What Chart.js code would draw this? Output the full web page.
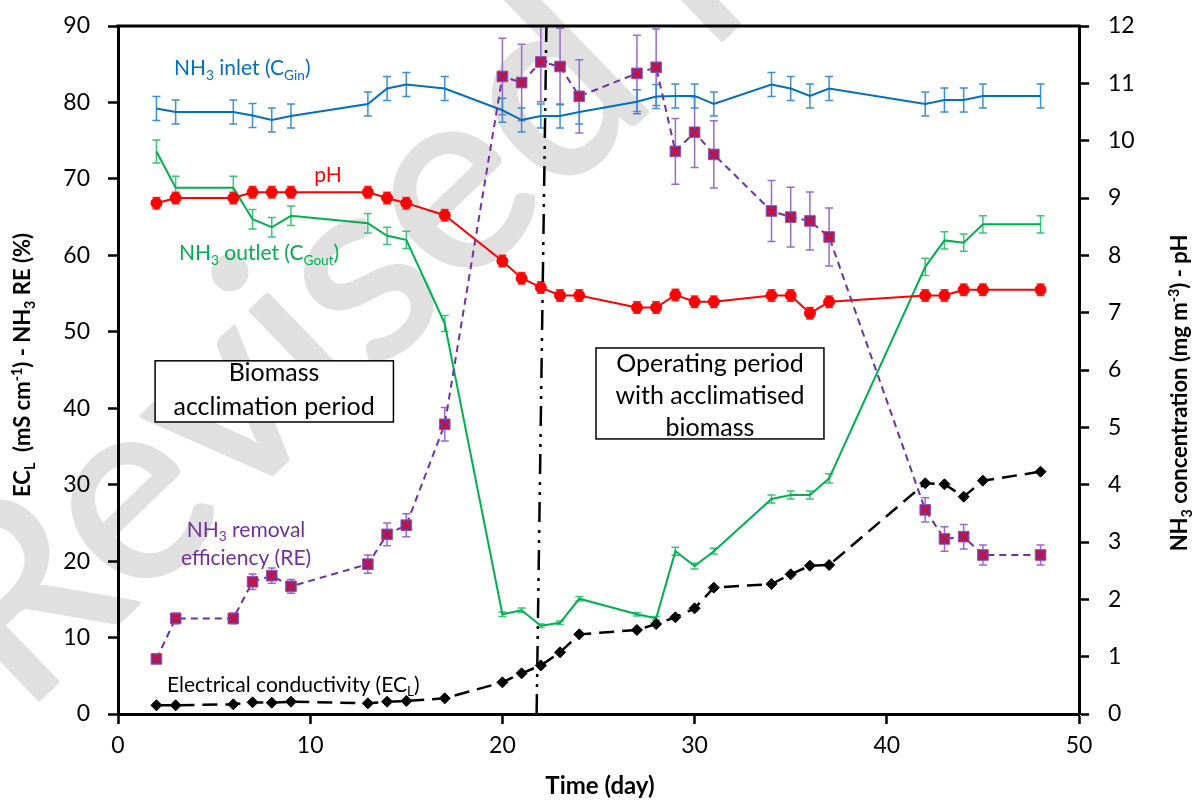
<!DOCTYPE html>
<html>
<head>
<meta charset="utf-8">
<script src="https://cdn.jsdelivr.net/npm/chart.js@4.4.0/dist/chart.umd.min.js"></script>
<style>
  html, body { margin: 0; background: #fff; }
  #wrap { width: 1200px; height: 810px; position: relative; }
</style>
</head>
<body>
<div id="wrap"><canvas id="chart"></canvas></div>
<script>
// sampling days
const days = [2, 3, 6, 7, 8, 9, 13, 14, 15, 17, 20, 21, 22, 23, 24, 27, 28, 29, 30, 31, 34, 35, 36, 37, 42, 43, 44, 45, 48];

// NH3 inlet (mg m-3), right axis
const inlet    = [10.56, 10.50, 10.50, 10.44, 10.36, 10.43, 10.64, 10.91, 10.98, 10.91, 10.53, 10.36, 10.43, 10.43, 10.50, 10.68, 10.77, 10.78, 10.78, 10.64, 10.98, 10.91, 10.78, 10.91, 10.64, 10.71, 10.71, 10.78, 10.78];
const inletErr = [0.21, 0.21, 0.21, 0.21, 0.21, 0.21, 0.21, 0.21, 0.21, 0.21, 0.21, 0.21, 0.21, 0.21, 0.21, 0.21, 0.21, 0.21, 0.21, 0.21, 0.21, 0.21, 0.21, 0.21, 0.21, 0.21, 0.21, 0.21, 0.21];

// pH, right axis
const pH    = [8.91, 9.00, 9.00, 9.10, 9.10, 9.10, 9.10, 9.00, 8.91, 8.70, 7.90, 7.60, 7.44, 7.30, 7.30, 7.09, 7.09, 7.31, 7.19, 7.19, 7.30, 7.30, 6.99, 7.19, 7.30, 7.30, 7.40, 7.40, 7.40];
const pHErr = [0.1, 0.1, 0.1, 0.1, 0.1, 0.1, 0.1, 0.1, 0.1, 0.1, 0.1, 0.1, 0.1, 0.1, 0.1, 0.1, 0.1, 0.1, 0.1, 0.1, 0.1, 0.1, 0.1, 0.1, 0.1, 0.1, 0.1, 0.1, 0.1];

// NH3 outlet (mg m-3), right axis
const outlet    = [9.81, 9.18, 9.18, 8.63, 8.49, 8.69, 8.56, 8.34, 8.27, 6.81, 1.74, 1.81, 1.54, 1.59, 2.01, 1.74, 1.67, 2.84, 2.58, 2.84, 3.75, 3.82, 3.82, 4.11, 7.80, 8.26, 8.22, 8.54, 8.54];
const outletErr = [0.2, 0.2, 0.2, 0.17, 0.17, 0.17, 0.17, 0.15, 0.15, 0.14, 0.04, 0.04, 0.03, 0.03, 0.04, 0.03, 0.03, 0.07, 0.05, 0.05, 0.07, 0.07, 0.07, 0.08, 0.15, 0.15, 0.15, 0.15, 0.15];

// NH3 removal efficiency (%), left axis
const removal    = [7.2, 12.5, 12.5, 17.3, 18.1, 16.7, 19.6, 23.5, 24.7, 37.9, 83.4, 82.6, 85.3, 84.7, 80.8, 83.8, 84.6, 73.6, 76.1, 73.2, 65.8, 65.0, 64.5, 62.4, 26.7, 22.9, 23.2, 20.8, 20.8];
const removalErr = [0.3, 0.7, 0.7, 1.0, 1.0, 0.9, 1.2, 1.5, 1.5, 2.2, 5.0, 5.0, 5.2, 5.0, 4.8, 5.0, 5.0, 4.3, 4.6, 4.4, 4.0, 3.9, 3.8, 3.8, 1.6, 1.6, 1.6, 1.3, 1.3];

// electrical conductivity (mS cm-1), left axis
const ecl = [1.14, 1.14, 1.27, 1.53, 1.48, 1.61, 1.40, 1.61, 1.70, 2.05, 4.14, 5.32, 6.36, 8.07, 10.42, 10.99, 11.77, 12.65, 13.82, 16.53, 17.0, 18.27, 19.4, 19.49, 30.18, 30.05, 28.43, 30.52, 31.7];

// period divider (dash-dot line)
const dividerX = [21.78, 22.29];
const dividerY = [0, 90];

// axis ranges [min, max, step]
const xRange = [0, 50, 10];
const leftRange = [0, 90, 10];
const rightRange = [0, 12, 1];

const FONT = 'Lato, "Open Sans", sans-serif';
const toPts = vals => days.map((d, i) => ({ x: d, y: vals[i] }));

// text with sub/superscripts: parts = [[text, 0 normal | 1 sub | 2 sup], ...]
function drawRich(ctx, parts, x, y, size, weight, color, align) {
  const sm = size * 0.65;
  const font = s => `${weight} ${s}px ${FONT}`;
  let w = 0;
  parts.forEach(p => { ctx.font = font(p[1] ? sm : size); w += ctx.measureText(p[0]).width; });
  let cx = align === 'center' ? x - w / 2 : x;
  ctx.fillStyle = color;
  ctx.textAlign = 'left';
  ctx.textBaseline = 'alphabetic';
  parts.forEach(p => {
    ctx.font = font(p[1] ? sm : size);
    const dy = p[1] === 1 ? size * 0.22 : (p[1] === 2 ? -size * 0.38 : 0);
    ctx.fillText(p[0], cx, y + dy);
    cx += ctx.measureText(p[0]).width;
  });
}

// labels placed in data coordinates (x: day, y: left axis value at baseline)
const seriesLabels = [
  { x: 2.91, y: 83.6, align: 'left', color: '#0070c0', parts: [['NH', 0], ['3', 1], [' inlet (C', 0], ['Gin', 1], [')', 0]] },
  { x: 10.93, y: 69.6, align: 'center', color: '#ff0000', parts: [['pH', 0]] },
  { x: 3.17, y: 59.4, align: 'left', color: '#00b050', parts: [['NH', 0], ['3', 1], [' outlet (C', 0], ['Gout', 1], [')', 0]] },
  { x: 6.66, y: 23.2, align: 'center', color: '#7030a0', parts: [['NH', 0], ['3', 1], [' removal', 0]] },
  { x: 6.66, y: 19.5, align: 'center', color: '#7030a0', parts: [['efficiency (RE)', 0]] },
  { x: 2.55, y: 2.9, align: 'left', color: '#000000', parts: [['Electrical conductivity (EC', 0], ['L', 1], [')', 0]] }
];

const periodBoxes = [
  { x0: 1.93, x1: 14.33, y0: 38.2, y1: 46.2, cx: 8.12, lines: [['Biomass', 43.5], ['acclimation period', 39.1]] },
  { x0: 24.87, x1: 36.73, y0: 35.98, y1: 47.88, cx: 30.8, lines: [['Operating period', 44.7], ['with acclimatised', 40.5], ['biomass', 36.4]] }
];

const errorBars = {
  id: 'errorBars',
  beforeDatasetsDraw(chart) {
    const { ctx, chartArea: a } = chart;
    ctx.save();
    ctx.beginPath();
    ctx.rect(a.left, a.top, a.right - a.left, a.bottom - a.top);
    ctx.clip();
    chart.data.datasets.forEach(ds => {
      if (!ds.errors) return;
      const xs = chart.scales.x, ys = chart.scales[ds.yAxisID];
      ctx.strokeStyle = ds.errorColor;
      ctx.lineWidth = 1.5;
      ds.data.forEach((p, j) => {
        const e = ds.errors[j];
        if (!e) return;
        const px = xs.getPixelForValue(p.x);
        const top = ys.getPixelForValue(p.y + e), bot = ys.getPixelForValue(p.y - e);
        ctx.beginPath();
        ctx.moveTo(px, top); ctx.lineTo(px, bot);
        ctx.moveTo(px - 4, top); ctx.lineTo(px + 4, top);
        ctx.moveTo(px - 4, bot); ctx.lineTo(px + 4, bot);
        ctx.stroke();
      });
    });
    ctx.restore();
  }
};

const decorations = {
  id: 'decorations',
  beforeDraw(chart) {
    // grey "Revised manuscript" watermark
    const ctx = chart.ctx;
    ctx.save();
    ctx.translate(22, 716);
    ctx.rotate(-44 * Math.PI / 180);
    ctx.font = `262px ${FONT}`;
    ctx.fillStyle = '#e0e0e0';
    ctx.strokeStyle = '#e0e0e0';
    ctx.lineWidth = 4;
    ctx.lineJoin = 'round';
    ctx.textBaseline = 'alphabetic';
    ctx.fillText('Revised manuscript', 0, 0);
    ctx.strokeText('Revised manuscript', 0, 0);
    ctx.restore();
  },
  afterDatasetsDraw(chart) {
    const { ctx, chartArea: a, scales: { x, y } } = chart;
    ctx.save();
    // frame top edge
    ctx.strokeStyle = '#000';
    ctx.lineWidth = 3;
    ctx.beginPath();
    ctx.moveTo(a.left - 1.5, a.top);
    ctx.lineTo(a.right + 1.5, a.top);
    ctx.stroke();

    seriesLabels.forEach(l => {
      drawRich(ctx, l.parts, x.getPixelForValue(l.x), y.getPixelForValue(l.y), 21, 'normal', l.color, l.align);
    });

    periodBoxes.forEach(b => {
      const L = x.getPixelForValue(b.x0), R = x.getPixelForValue(b.x1);
      const T = y.getPixelForValue(b.y1), B = y.getPixelForValue(b.y0);
      ctx.fillStyle = '#fff';
      ctx.fillRect(L, T, R - L, B - T);
      ctx.strokeStyle = '#000';
      ctx.lineWidth = 1.5;
      ctx.strokeRect(L, T, R - L, B - T);
      b.lines.forEach(([t, v]) => {
        drawRich(ctx, [[t, 0]], x.getPixelForValue(b.cx), y.getPixelForValue(v), 25, 'normal', '#000', 'center');
      });
    });
    ctx.restore();
  },
  afterDraw(chart) {
    const ctx = chart.ctx;
    ctx.save();
    drawRich(ctx, [['Time (day)', 0]], 600, 794, 24, 'bold', '#000', 'center');

    ctx.save();
    ctx.translate(22, 365);
    ctx.rotate(-Math.PI / 2);
    drawRich(ctx, [['EC', 0], ['L', 1], ['  (mS cm', 0], ['-1', 2], [') - NH', 0], ['3', 1], [' RE (%)', 0]], 0, 8, 22, 'bold', '#000', 'center');
    ctx.restore();

    ctx.save();
    ctx.translate(1179, 393);
    ctx.rotate(-Math.PI / 2);
    drawRich(ctx, [['NH', 0], ['3', 1], [' concentration (mg m', 0], ['-3', 2], [') - pH', 0]], 0, 8, 22, 'bold', '#000', 'center');
    ctx.restore();
    ctx.restore();
  }
};

const axisBase = {
  grid: { drawOnChartArea: false, drawTicks: true, tickLength: 10, tickColor: '#000', tickWidth: 2.5 },
  border: { color: '#000', width: 3 }
};

// fixed axis box sizes so the plot area lands where the original has it
const fixVertical = w => s => { s.width = w; s.paddingTop = 0; s.paddingBottom = 0; };

new Chart(document.getElementById('chart'), {
  type: 'line',
  data: {
    datasets: [
      { label: 'RE marks', data: toPts(removal), yAxisID: 'y', showLine: false,
        pointStyle: 'crossRot', pointRadius: 6.5, pointBorderColor: '#ff0000', pointBorderWidth: 1.5, borderColor: '#ff0000' },
      { label: 'NH3 removal efficiency (RE)', data: toPts(removal), yAxisID: 'y',
        borderColor: '#7030a0', borderWidth: 2, borderDash: [7, 5],
        pointStyle: 'rect', pointRadius: 7.5, pointBackgroundColor: '#7030a0', pointBorderColor: '#8a55bb', pointBorderWidth: 1,
        errors: removalErr, errorColor: '#9a6acb' },
      { label: 'pH', data: toPts(pH), yAxisID: 'y2',
        borderColor: '#ff0000', borderWidth: 2,
        pointStyle: 'circle', pointRadius: 5.5, pointBackgroundColor: '#ff0000', pointBorderColor: '#ff0000', pointBorderWidth: 1,
        errors: pHErr, errorColor: '#ff3030' },
      { label: 'Electrical conductivity (ECL)', data: toPts(ecl), yAxisID: 'y',
        borderColor: '#000', borderWidth: 2.5, borderDash: [15, 8],
        pointStyle: 'rectRot', pointRadius: 5.5, pointBackgroundColor: '#000', pointBorderColor: '#000', pointBorderWidth: 1 },
      { label: 'NH3 inlet (CGin)', data: toPts(inlet), yAxisID: 'y2',
        borderColor: '#0070c0', borderWidth: 2, pointRadius: 0,
        errors: inletErr, errorColor: '#3d8fd1' },
      { label: 'NH3 outlet (CGout)', data: toPts(outlet), yAxisID: 'y2',
        borderColor: '#00b050', borderWidth: 2, pointRadius: 0,
        errors: outletErr, errorColor: '#3cc47a' },
      { label: 'divider', data: dividerX.map((v, i) => ({ x: v, y: dividerY[i] })), yAxisID: 'y',
        borderColor: '#000', borderWidth: 2.5, borderDash: [20, 7, 3, 7, 3, 8], pointRadius: 0 }
    ]
  },
  options: {
    responsive: true,
    maintainAspectRatio: false,
    animation: false,
    devicePixelRatio: 1,
    layout: { padding: { top: 26, left: 0, right: 0, bottom: 0 } },
    plugins: { legend: { display: false }, tooltip: { enabled: false } },
    scales: {
      x: {
        ...axisBase,
        type: 'linear', min: xRange[0], max: xRange[1],
        ticks: { stepSize: xRange[2], color: '#000', font: { family: FONT, size: 23 }, padding: 8, maxRotation: 0 },
        afterFit: s => { s.height = 96; }
      },
      y: {
        ...axisBase,
        position: 'left', min: leftRange[0], max: leftRange[1],
        ticks: { stepSize: leftRange[2], color: '#000', font: { family: FONT, size: 23 }, padding: 18 },
        afterFit: fixVertical(118)
      },
      y2: {
        ...axisBase,
        position: 'right', min: rightRange[0], max: rightRange[1],
        ticks: { stepSize: rightRange[2], color: '#000', font: { family: FONT, size: 23 }, padding: 19 },
        afterFit: fixVertical(121)
      }
    }
  },
  plugins: [errorBars, decorations]
});
</script>
</body>
</html>
